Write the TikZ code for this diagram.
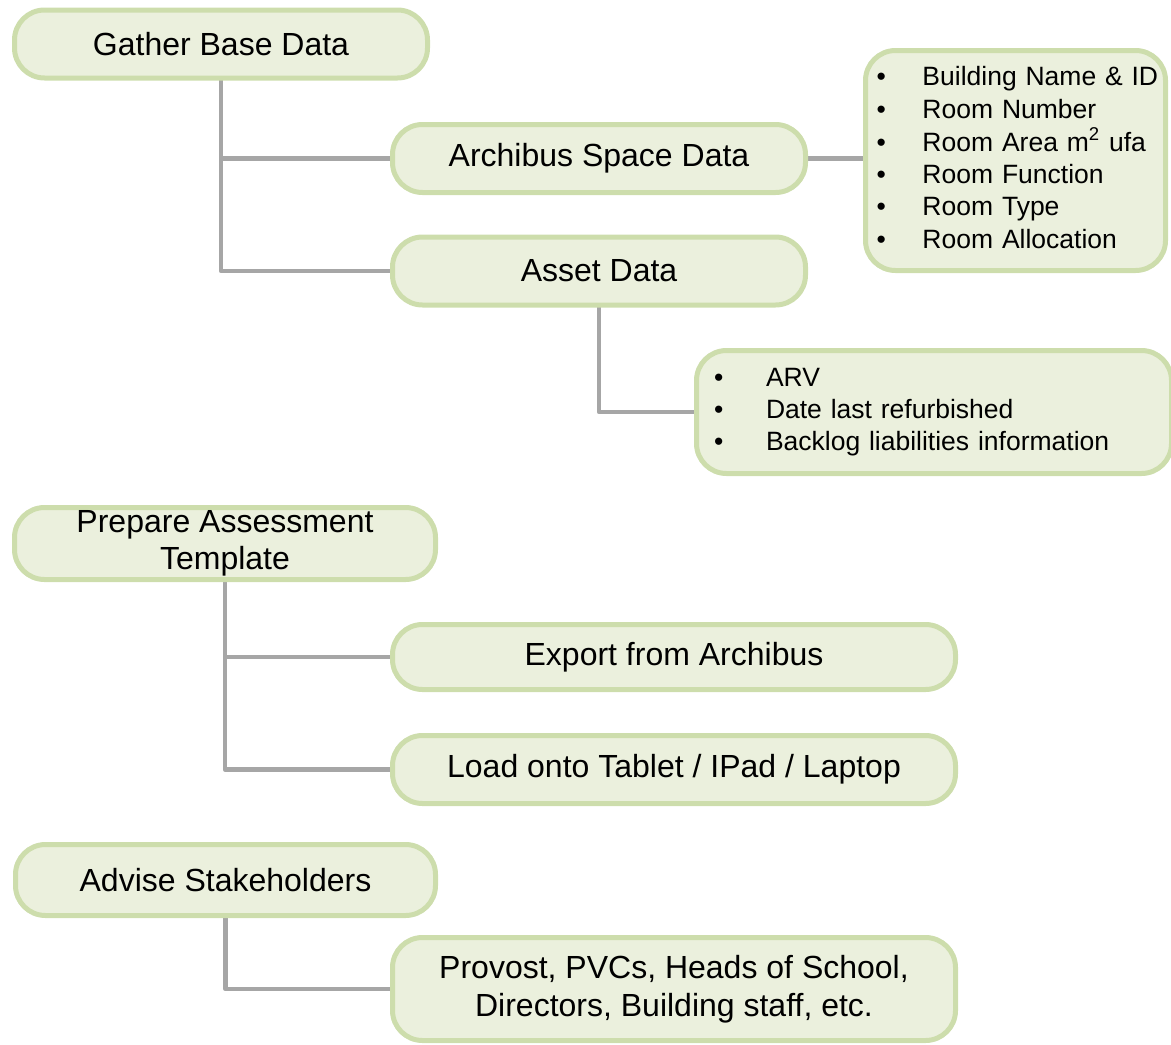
\documentclass[tikz,border=0pt]{standalone}
\usepackage{fontspec}
\setmainfont{Liberation Sans}
\usetikzlibrary{backgrounds}
\definecolor{boxline}{RGB}{205,221,172}
\definecolor{boxfill}{RGB}{235,240,221}
\definecolor{linkgray}{RGB}{166,166,166}
\begin{document}
\begin{tikzpicture}[x=0.5pt, y=-0.5pt,
stepbox/.style =
  {rectangle,
   draw=boxline, fill=boxfill,
   line width=2.5pt, rounded corners=15pt,
   inner ysep=1pt, align=center,
   font=\fontsize{16}{18.8}\selectfont,
   minimum height=34pt, minimum width=206.5pt},
widebox/.style =
  {stepbox, minimum width=281.5pt},
listbox/.style =
  {rectangle,
   draw=boxline, fill=boxfill,
   line width=2.5pt, rounded corners=15pt,
   align=left,
   font=\fontsize{13.25}{16.2}\selectfont},
link/.style={draw=linkgray, line width=2.4pt, line cap=round, line join=round}
]
\useasboundingbox (0,0) rectangle (1171,1044);
%Nodes
\node[stepbox] (gather) at (221,44) {Gather Base Data};
\node[stepbox] (spacedata) at (599,158.5) {Archibus Space Data};
\node[stepbox] (assetdata) at (599,271) {Asset Data};
\node[listbox, inner xsep=5.5pt, text width=139pt, minimum height=110pt] (spacelist) at (1015.5,160.5)
  {\begin{tabular}{@{}p{23pt}@{}l@{}}
   \textbullet & Building Name \& ID\\
   \textbullet & Room Number\\
   \textbullet & Room Area m\textsuperscript{2} ufa\\
   \textbullet & Room Function\\
   \textbullet & Room Type\\
   \textbullet & Room Allocation
   \end{tabular}};
\node[listbox, inner xsep=8.75pt, text width=220pt, minimum height=61.5pt] (assetlist) at (934,412)
  {\begin{tabular}{@{}p{26pt}@{}l@{}}
   \textbullet & ARV\\
   \textbullet & Date last refurbished\\
   \textbullet & Backlog liabilities information
   \end{tabular}};
\node[stepbox, minimum width=210.5pt, minimum height=36pt] (prepare) at (225,543.5) {Prepare Assessment\\Template};
\node[widebox, minimum height=32.5pt] (export) at (674,657) {Export from Archibus};
\node[widebox] (load) at (674,769.5) {Load onto Tablet / IPad / Laptop};
\node[stepbox, minimum width=210pt, minimum height=35.5pt] (advise) at (225.5,880) {Advise Stakeholders};
\node[widebox, minimum height=51.5pt] (stakeholders) at (674,989) {Provost, PVCs, Heads of School,\\Directors, Building staff, etc.};
%Links
\begin{scope}[on background layer]
\draw[link] (gather.south) |- (spacedata.west);
\draw[link] (gather.south) |- (assetdata.west);
\draw[link] (spacedata.east) -- (spacedata.east -| spacelist.west);
\draw[link] (assetdata.south) |- (assetlist.west);
\draw[link] (prepare.south) |- (export.west);
\draw[link] (prepare.south) |- (load.west);
\draw[link] (advise.south) |- (stakeholders.west);
\end{scope}
\end{tikzpicture}
\end{document}
